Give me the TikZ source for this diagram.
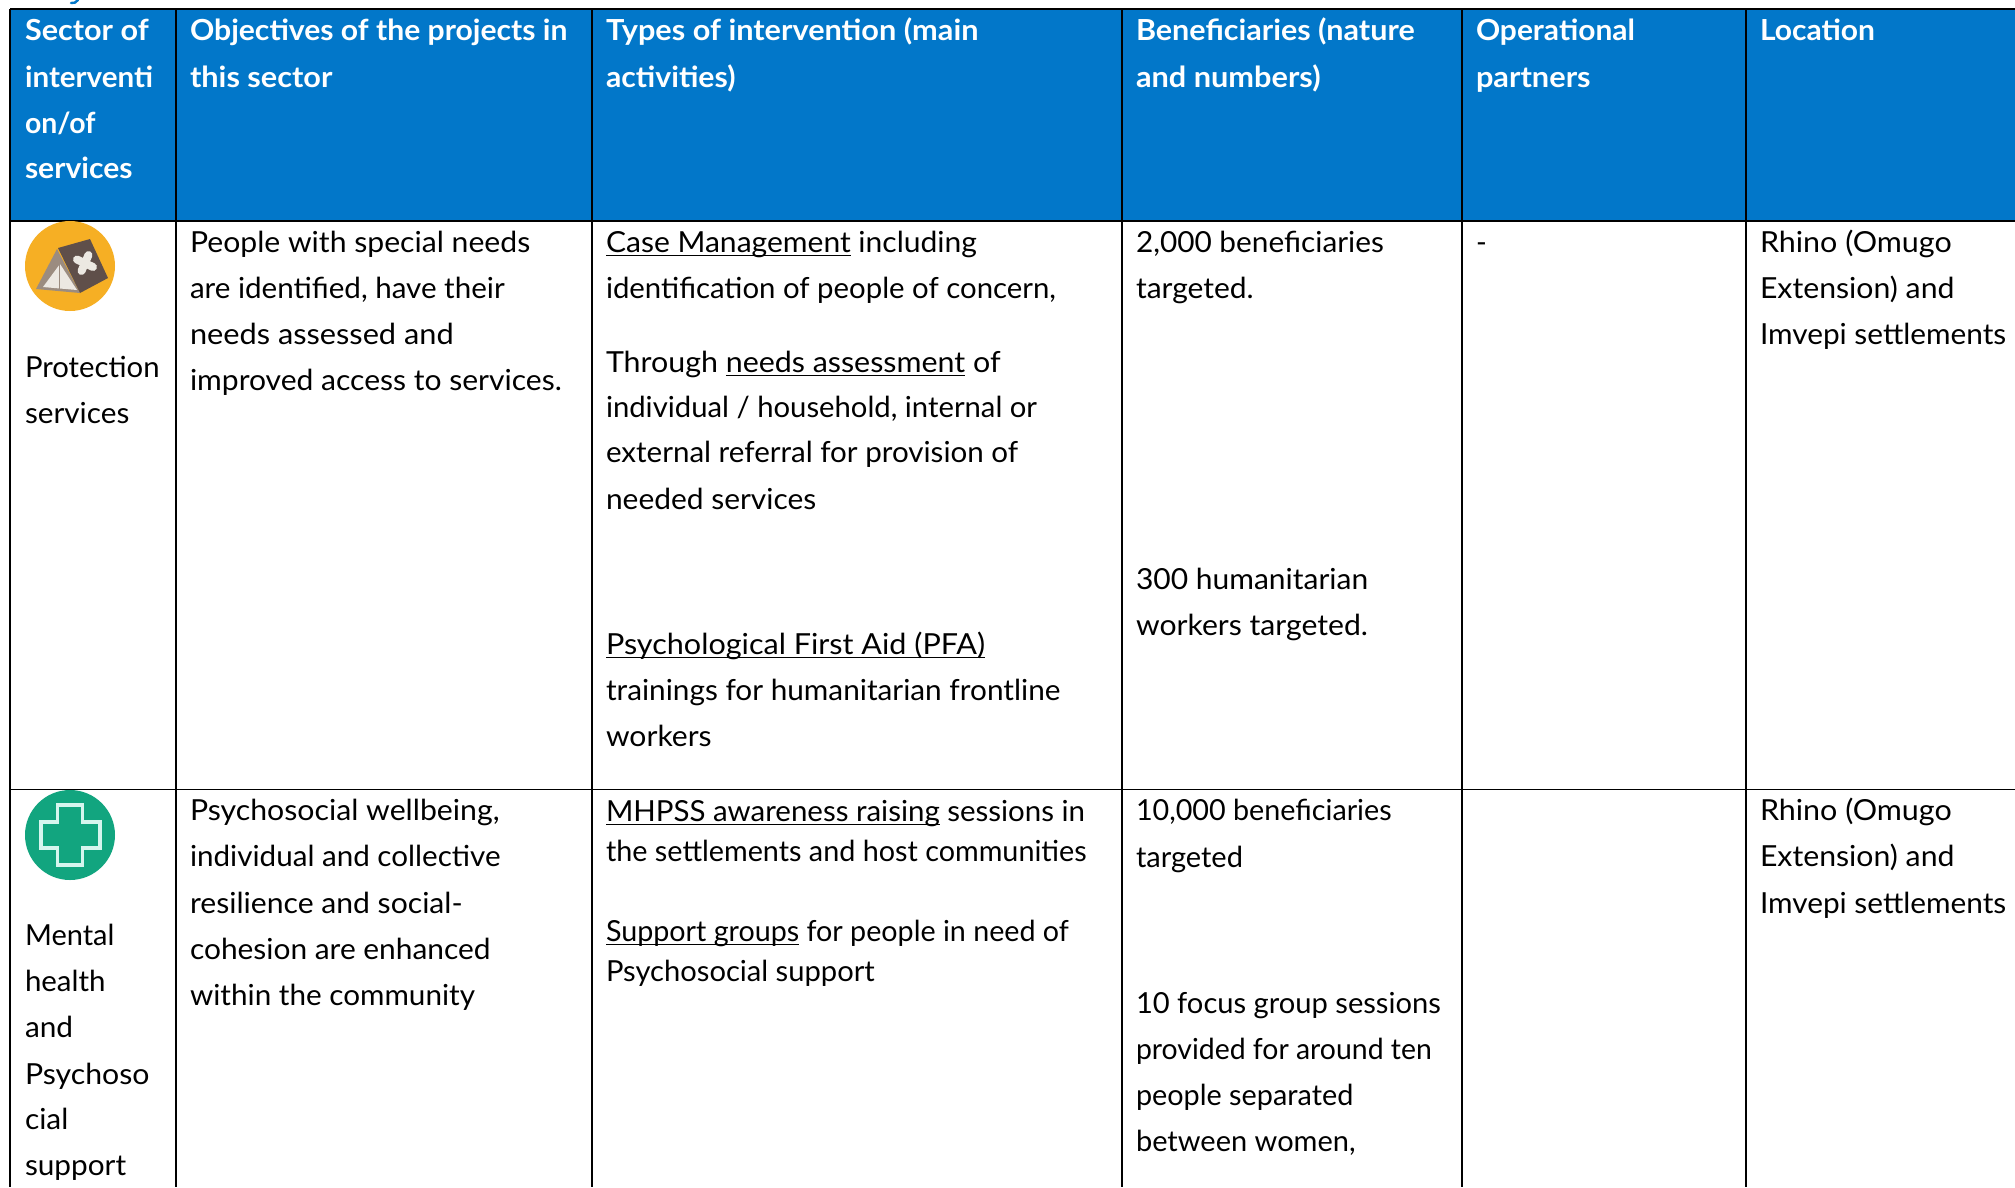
\documentclass[tikz,border=0pt]{standalone}
\usepackage{fontspec}
\setmainfont{Lato}
\definecolor{headblue}{HTML}{0277C9}
\definecolor{gridk}{HTML}{000000}
\definecolor{tentor}{HTML}{F6AF24}
\definecolor{tentdk}{HTML}{5F4F4A}
\definecolor{tentlt}{HTML}{ECE8E2}
\definecolor{tentbr}{HTML}{9B8C80}
\definecolor{crossgr}{HTML}{12A57F}
\definecolor{crosslt}{HTML}{D6F5EE}
\newsavebox{\ulbox}
\newcommand{\ulx}[1]{\sbox{\ulbox}{#1}\rlap{\rule[-4.2pt]{\wd\ulbox}{1.6pt}}\usebox{\ulbox}}
\newcommand{\sx}[2]{\scalebox{#1}[1]{#2}}
\tikzset{
  x=1pt,y=-1pt,
  line/.style={anchor=base west,inner sep=0pt,outer sep=0pt,yshift=-2.2pt,font=\fontsize{29}{29}\selectfont,text=black},
  head/.style={line,font=\fontsize{29}{29}\bfseries\selectfont,text=white},
  thin grid/.style={draw=gridk,line width=1.8pt},
  thick grid/.style={draw=gridk,line width=2.8pt},
}
\begin{document}
\begin{tikzpicture}
\useasboundingbox (0,0) rectangle (2015,1187);
\fill[white] (0,0) rectangle (2015,1187);
\fill[headblue] (10,9) rectangle (2015,220);
% blue descender left by the line above the table
\draw[headblue,line width=2.4pt,line cap=round] (78,0) .. controls (76,2.5) and (74,3.5) .. (71,3);
% grid
\draw[thick grid] (10,9) -- (2015,9);
\draw[thick grid] (10,221) -- (2015,221);
\draw[thin grid] (10,789.5) -- (2015,789.5);
\foreach \cx in {10,176,592,1122,1462,1746}
  \draw[thin grid] (\cx,9) -- (\cx,1187);
% header
\node[head] (h1a) at (25,38) {\sx{1.055}{Sector of}};
\node[head] (h1b) at (25,85) {\sx{1.02}{interventi}};
\node[head] (h1c) at (25,131) {\sx{.98}{on/of}};
\node[head] (h1d) at (25,176) {\sx{1.037}{services}};
\node[head] (h2a) at (190,38) {\sx{1.039}{Objectives of the projects in}};
\node[head] (h2b) at (190,85) {\sx{1.058}{this sector}};
\node[head] (h3a) at (606,38) {\sx{1.058}{Types of intervention (main}};
\node[head] (h3b) at (606,85) {\sx{1.042}{activities)}};
\node[head] (h4a) at (1136,38) {\sx{1.053}{Beneficiaries (nature}};
\node[head] (h4b) at (1136,85) {\sx{1.059}{and numbers)}};
\node[head] (h5a) at (1476,38) {\sx{1.033}{Operational}};
\node[head] (h5b) at (1476,85) {\sx{1.06}{partners}};
\node[head] (h6a) at (1760,38) {\sx{1.035}{Location}};
% tent icon
\fill[tentor] (70,266) circle (45);
\fill[tentbr] (57,249) -- (36,289) -- (80,293) -- cycle;
\fill[tentlt] (60,264) -- (43,287) -- (77,290) -- cycle;
\draw[tentbr,line width=.8pt] (59,262) -- (59,290);
\fill[tentdk] (58,248) -- (90,239) -- (108,278) -- (80,293) -- cycle;
\draw[tentlt,line width=8pt,line cap=round] (77,259.5) -- (93,267);
\draw[tentlt,line width=8pt,line cap=round] (88.5,255) -- (81.5,271);
% cross icon
\fill[crossgr] (70,835) circle (45);
\draw[crosslt,line width=3.2pt,line join=miter] (57.5,805) -- (82.5,805) -- (82.5,822) -- (100,822) -- (100,848) -- (82.5,848) -- (82.5,865) -- (57.5,865) -- (57.5,848) -- (41,848) -- (41,822) -- (57.5,822) -- cycle;
% row 1
\node[line] (p1) at (25,375) {\sx{1.01}{Protection}};
\node[line] (p2) at (25,421) {\sx{1.025}{services}};
\node[line] (o1) at (190,250) {\sx{1.04}{People with special needs}};
\node[line] (o2) at (190,296) {\sx{1.02}{are identified, have their}};
\node[line] (o3) at (190,342) {\sx{1.06}{needs assessed and}};
\node[line] (o4) at (190,388) {\sx{1.036}{improved access to services.}};
\node[line] (t1) at (606,250) {\sx{1.036}{\ulx{Case Management} including}};
\node[line] (t2) at (606,296) {\sx{1.012}{identification of people of concern,}};
\node[line] (t3) at (606,370) {\sx{1.048}{Through \ulx{needs assessment} of}};
\node[line] (t4) at (606,415) {\sx{1.009}{individual / household, internal or}};
\node[line] (t5) at (606,460) {\sx{1.019}{external referral for provision of}};
\node[line] (t6) at (606,507) {\sx{1.032}{needed services}};
\node[line] (t7) at (606,652) {\sx{1.054}{\ulx{Psychological First Aid (PFA)}}};
\node[line] (t8) at (606,698) {\sx{1.026}{trainings for humanitarian frontline}};
\node[line] (t9) at (606,744) {\sx{1.038}{workers}};
\node[line] (b1) at (1136,250) {\sx{1.027}{2,000 beneficiaries}};
\node[line] (b2) at (1136,296) {\sx{1.034}{targeted.}};
\node[line] (b3) at (1136,587) {\sx{1.034}{300 humanitarian}};
\node[line] (b4) at (1136,633) {\sx{1.04}{workers targeted.}};
\node[line] (d1) at (1476,250) {-};
\node[line] (l1) at (1760,250) {\sx{1.05}{Rhino (Omugo}};
\node[line] (l2) at (1760,296) {\sx{1.042}{Extension) and}};
\node[line] (l3) at (1760,342) {\sx{1.027}{Imvepi settlements}};
% row 2
\node[line] (m1) at (25,943) {Mental};
\node[line] (m2) at (25,989) {\sx{1.016}{health}};
\node[line] (m3) at (25,1035) {\sx{1.027}{and}};
\node[line] (m4) at (25,1082) {\sx{1.043}{Psychoso}};
\node[line] (m5) at (25,1127) {\sx{1.03}{cial}};
\node[line] (m6) at (25,1173) {\sx{1.026}{support}};
\node[line] (q1) at (190,818) {\sx{1.043}{Psychosocial wellbeing,}};
\node[line] (q2) at (190,864) {\sx{1.021}{individual and collective}};
\node[line] (q3) at (190,911) {\sx{1.039}{resilience and social-}};
\node[line] (q4) at (190,957) {\sx{1.031}{cohesion are enhanced}};
\node[line] (q5) at (190,1003) {\sx{1.023}{within the community}};
\node[line] (r1) at (606,819) {\sx{1.016}{\ulx{MHPSS awareness raising} sessions in}};
\node[line] (r2) at (606,859) {\sx{.992}{the settlements and host communities}};
\node[line] (r3) at (606,939) {\sx{.989}{\ulx{Support groups} for people in need of}};
\node[line] (r4) at (606,979) {\sx{1.005}{Psychosocial support}};
\node[line] (s1) at (1136,818) {\sx{.99}{10,000 beneficiaries}};
\node[line] (s2) at (1136,865) {targeted};
\node[line] (s3) at (1136,1011) {\sx{1.004}{10 focus group sessions}};
\node[line] (s4) at (1136,1057) {\sx{.979}{provided for around ten}};
\node[line] (s5) at (1136,1103) {\sx{.993}{people separated}};
\node[line] (s6) at (1136,1149) {between women,};
\node[line] (u1) at (1760,818) {\sx{1.05}{Rhino (Omugo}};
\node[line] (u2) at (1760,864) {\sx{1.042}{Extension) and}};
\node[line] (u3) at (1760,911) {\sx{1.027}{Imvepi settlements}};
\end{tikzpicture}
\end{document}
